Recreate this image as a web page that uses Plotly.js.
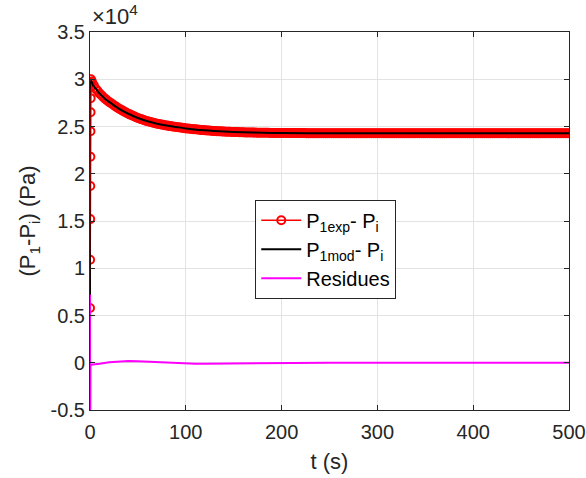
<!DOCTYPE html>
<html>
<head>
<meta charset="utf-8">
<script src="https://cdn.plot.ly/plotly-3.0.1.min.js"></script>
<style>html,body{margin:0;padding:0;background:#fff;}#chart{width:586px;height:478px;}</style>
</head>
<body>
<div id="chart"></div>
<script>
// Experimental data: time (s)
var tExp = [0,0.1,0.2,0.3,0.4,0.5,0.6,0.7,0.8,0.9,1,
  2,4,6,8,10,12,14,16,18,20,
  22,24,26,28,30,32,34,36,38,40,
  42,44,46,48,50,52,54,56,58,60,
  62,64,66,68,70,72,74,76,78,80,
  82,84,86,88,90,92,94,96,98,100,
  102,104,106,108,110,112,114,116,118,120,
  122,124,126,128,130,132,134,136,138,140,
  142,144,146,148,150,152,154,156,158,160,
  162,164,166,168,170,172,174,176,178,180,
  182,184,186,188,190,192,194,196,198,200,
  202,204,206,208,210,212,214,216,218,220,
  222,224,226,228,230,232,234,236,238,240,
  242,244,246,248,250,252,254,256,258,260,
  262,264,266,268,270,272,274,276,278,280,
  282,284,286,288,290,292,294,296,298,300,
  302,304,306,308,310,312,314,316,318,320,
  322,324,326,328,330,332,334,336,338,340,
  342,344,346,348,350,352,354,356,358,360,
  362,364,366,368,370,372,374,376,378,380,
  382,384,386,388,390,392,394,396,398,400,
  402,404,406,408,410,412,414,416,418,420,
  422,424,426,428,430,432,434,436,438,440,
  442,444,446,448,450,452,454,456,458,460,
  462,464,466,468,470,472,474,476,478,480,
  482,484,486,488,490,492,494,496,498,500];
// Experimental data: P1exp - Pi (Pa)
var pExp = [5800,10900,15200,18700,21800,24500,26500,28000,29100,29600,30000,
  29750,29350,29000,28750,28500,28300,28100,27920,27760,27600,
  27460,27320,27180,27040,26900,26790,26680,26570,26460,26350,
  26260,26170,26080,25990,25900,25830,25760,25690,25620,25550,
  25500,25450,25400,25350,25300,25260,25220,25180,25140,25100,
  25070,25040,25010,24980,24950,24920,24890,24860,24830,24800,
  24780,24760,24740,24720,24700,24680,24660,24640,24620,24600,
  24585,24570,24550,24535,24520,24510,24500,24485,24470,24460,
  24450,24445,24435,24430,24420,24410,24405,24395,24390,24380,
  24375,24370,24365,24360,24360,24355,24350,24345,24340,24340,
  24335,24330,24330,24325,24320,24320,24315,24310,24310,24310,
  24305,24305,24300,24300,24300,24300,24300,24300,24300,24300,
  24300,24300,24295,24295,24295,24295,24295,24295,24290,24290,
  24290,24290,24290,24290,24290,24290,24290,24290,24290,24290,
  24290,24290,24290,24290,24290,24290,24290,24290,24290,24290,
  24290,24290,24290,24290,24290,24290,24290,24290,24290,24290,
  24290,24290,24290,24290,24290,24290,24290,24290,24290,24290,
  24290,24290,24290,24290,24290,24290,24290,24290,24290,24290,
  24290,24290,24290,24290,24290,24290,24290,24290,24290,24290,
  24290,24290,24290,24290,24290,24290,24290,24290,24290,24290,
  24290,24290,24290,24290,24290,24290,24290,24290,24290,24290,
  24290,24290,24290,24290,24290,24290,24290,24290,24290,24290,
  24290,24290,24290,24290,24290,24290,24290,24290,24290,24290,
  24290,24290,24290,24290,24290,24290,24290,24290,24290,24290,
  24290,24290,24290,24290,24290,24290,24290,24290,24290,24290,
  24290,24290,24290,24290,24290,24290,24290,24290,24290,24290];

// Model (Pa)
var tMod = [0,1,3,6,10,15,20,30,40,50,60,70,80,90,100,120,140,160,180,200,250,300,350,400,450,500];
var pMod = [7200,29900,29400,29000,28500,28000,27600,26900,26350,25900,25550,25300,25100,24950,24800,24600,24460,24380,24340,24310,24290,24290,24290,24290,24290,24290];

// Residues (Pa)
var tRes = [0,0.1,0.5,1,5,10,20,30,40,50,60,70,80,90,100,110,120,130,140,160,180,200,250,300,350,400,450,500];
var pRes = [7200,-9000,-300,-200,-170,-100,60,150,180,160,110,50,0,-50,-90,-100,-100,-90,-80,-50,-30,-20,-10,0,0,10,10,10];

var yTickVals = [-5000,0,5000,10000,15000,20000,25000,30000,35000];
var yTickText = ['-0.5','0','0.5','1','1.5','2','2.5','3','3.5'];
var xTickVals = [0,100,200,300,400,500];

var axisColor = '#262626';
var gridColor = '#e3e3e3';
var fam = '"Liberation Sans", Arial, Helvetica, sans-serif';

var traces = [
  {x: tExp, y: pExp, type: 'scatter', mode: 'lines+markers',
   name: 'P<sub>1exp</sub>- P<sub>i</sub>',
   line: {color: '#ff0000', width: 1.5},
   marker: {symbol: 'circle-open', size: 8, color: '#ff0000', line: {width: 2, color: '#ff0000'}}},
  {x: tMod, y: pMod, type: 'scatter', mode: 'lines',
   name: 'P<sub>1mod</sub>- P<sub>i</sub>',
   line: {color: '#000000', width: 2, shape: 'spline', smoothing: 0.6}},
  {x: tRes, y: pRes, type: 'scatter', mode: 'lines',
   name: 'Residues',
   line: {color: '#ff00ff', width: 2}}
];

var layout = {
  width: 586, height: 478,
  margin: {l: 90, r: 17, t: 32, b: 68},
  paper_bgcolor: '#ffffff', plot_bgcolor: '#ffffff',
  font: {family: fam, size: 20, color: axisColor},
  showlegend: true,
  legend: {x: 0.345, y: 0.556, xanchor: 'left', yanchor: 'top',
    bgcolor: '#ffffff', bordercolor: axisColor, borderwidth: 1, itemwidth: 40,
    font: {family: fam, size: 20, color: '#000000'}, tracegroupgap: 0},
  xaxis: {range: [0, 500], tickvals: xTickVals, ticktext: xTickVals.map(String),
    showline: true, mirror: 'ticks', linecolor: axisColor, linewidth: 1,
    ticks: 'inside', ticklen: 5, tickcolor: axisColor, ticklabelstandoff: 4,
    showgrid: true, gridcolor: gridColor, zeroline: false, automargin: false,
    tickfont: {family: fam, size: 20, color: axisColor},
    title: {text: 't (s)', font: {family: fam, size: 22, color: axisColor}, standoff: 11}},
  yaxis: {range: [-5000, 35000], tickvals: yTickVals, ticktext: yTickText,
    showline: true, mirror: 'ticks', linecolor: axisColor, linewidth: 1,
    ticks: 'inside', ticklen: 5, tickcolor: axisColor,
    showgrid: true, gridcolor: gridColor, zeroline: false, automargin: false,
    tickfont: {family: fam, size: 20, color: axisColor},
    title: {text: '(P<sub>1</sub>-P<sub>i</sub>) (Pa)', font: {family: fam, size: 22, color: axisColor}, standoff: 8}},
  annotations: [{xref: 'paper', yref: 'paper', x: 0, y: 1, xanchor: 'left', yanchor: 'bottom',
    text: '×10<sup>4</sup>', showarrow: false, yshift: 1,
    font: {family: fam, size: 22, color: axisColor}}]
};

Plotly.newPlot('chart', traces, layout, {displayModeBar: false, staticPlot: true});
</script>
</body>
</html>
